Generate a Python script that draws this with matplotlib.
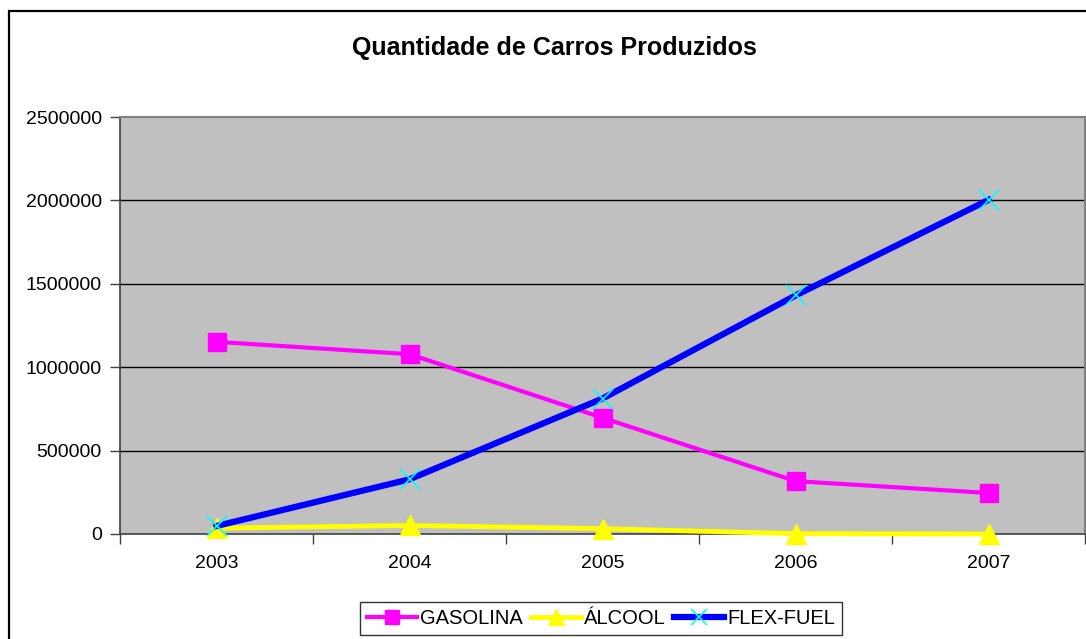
import matplotlib
matplotlib.use('Agg')
import matplotlib.pyplot as plt
from matplotlib.patches import Rectangle
from matplotlib.ticker import FixedLocator

plt.rcParams['font.family'] = ['Liberation Sans', 'DejaVu Sans']

# dados
anos = ['2003', '2004', '2005', '2006', '2007']
gasolina = [1152000, 1078000, 697000, 317000, 246000]
alcool = [35000, 51000, 32000, 2000, 100]
flex_fuel = [48000, 328000, 812000, 1430000, 2003000]
y_ticks = [0, 500000, 1000000, 1500000, 2000000, 2500000]

fig = plt.figure(figsize=(10.86, 6.39), dpi=100)
ax = fig.add_axes([120 / 1086, 1 - 534 / 639, 965 / 1086, 417 / 639])
ax.set_facecolor('#c0c0c0')

x = list(range(len(anos)))

# linhas de grade
for v in y_ticks[1:-1]:
    ax.axhline(v, color='black', linewidth=1, zorder=1)

ax.plot(x, gasolina, color='#ff00ff', linewidth=3, marker='s', markersize=13,
        markerfacecolor='#ff00ff', markeredgecolor='#ff00ff', label='GASOLINA', zorder=3)
ax.plot(x, alcool, color='#ffff00', linewidth=3.5, marker='^', markersize=14,
        markerfacecolor='#ffff00', markeredgecolor='#ffff00', label='ÁLCOOL', zorder=4,
        clip_on=False)
ax.plot(x, flex_fuel, color='#0000ff', linewidth=4.5, marker='x', markersize=15,
        markeredgecolor='#00ffff', markeredgewidth=1.2, label='FLEX-FUEL', zorder=5,
        clip_on=False)

ax.set_xlim(-0.5, len(anos) - 0.5)
ax.set_ylim(0, 2500000)
ax.set_yticks(y_ticks)
ax.set_yticklabels([str(v) for v in y_ticks])
ax.set_xticks(x)
ax.set_xticklabels(anos)
ax.xaxis.set_minor_locator(FixedLocator([i - 0.5 for i in range(len(anos) + 1)]))
ax.tick_params(axis='x', which='major', length=0, pad=15, labelsize=14)
ax.tick_params(axis='x', which='minor', length=7, width=1, direction='out', color='#404040')
ax.tick_params(axis='y', length=7, width=1, direction='out', pad=6, labelsize=14, color='#404040')

for s in ['left', 'bottom']:
    ax.spines[s].set_color('#404040')
    ax.spines[s].set_linewidth(1.2)
for s in ['top', 'right']:
    ax.spines[s].set_color('#808080')
    ax.spines[s].set_linewidth(1.5)

fig.text(554 / 1086, 1 - 48 / 639, 'Quantidade de Carros Produzidos',
         ha='center', va='center', fontsize=18, fontweight='bold')

# moldura externa
fig.patches.append(Rectangle((8.5 / 1086, -0.2), 1.2, 1.2 - 11 / 639,
                             transform=fig.transFigure, fill=False,
                             edgecolor='black', linewidth=1.6, zorder=0))

leg = fig.legend(loc='upper center', bbox_to_anchor=(601 / 1086, 1 - 602 / 639),
                 ncol=3, fontsize=14.5, frameon=True, fancybox=False, edgecolor='black',
                 handlelength=2.5, handletextpad=0.15, columnspacing=0.4,
                 borderpad=0.35, borderaxespad=0, markerscale=0.8)
leg.get_frame().set_linewidth(1)

fig.savefig('out.png', dpi=100)
